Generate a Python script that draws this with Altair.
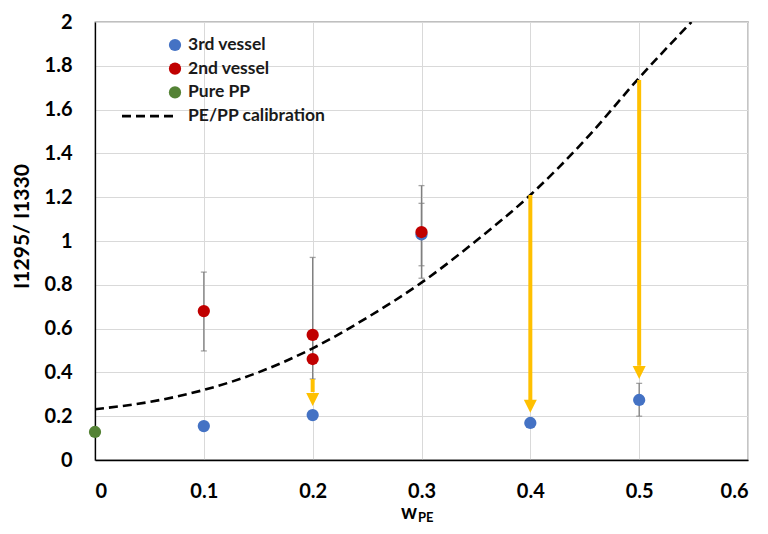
import altair as alt
import pandas as pd

# ---- data ----
v3_x = [0.1, 0.2, 0.3, 0.4, 0.5]
v3_y = [0.155, 0.205, 1.03, 0.169, 0.274]
v2_x = [0.1, 0.2, 0.2, 0.3]
v2_y = [0.68, 0.571, 0.461, 1.041]
pp_x = [0.0]
pp_y = [0.128]
cal_x = [0.0, 0.05, 0.1, 0.15, 0.2, 0.25, 0.3, 0.35, 0.4, 0.45, 0.5, 0.548]
cal_y = [0.232, 0.265, 0.32, 0.40, 0.51, 0.65, 0.81, 1.0, 1.21, 1.46, 1.745, 2.0]
err_x = [0.1, 0.2, 0.3, 0.3, 0.5]
err_lo = [0.498, 0.37, 0.83, 0.887, 0.20]
err_hi = [0.858, 0.925, 1.253, 1.172, 0.35]
arrow_x = [0.2, 0.4, 0.5]
arrow_top = [0.37, 1.21, 1.735]
arrow_base = [0.31, 0.27, 0.43]
arrow_tip = [0.247, 0.216, 0.37]
x_ticks = [0, 0.1, 0.2, 0.3, 0.4, 0.5, 0.6]
y_ticks = [0, 0.2, 0.4, 0.6, 0.8, 1.0, 1.2, 1.4, 1.6, 1.8, 2.0]
legend_labels = ["3rd vessel", "2nd vessel", "Pure PP", "PE/PP calibration"]
legend_colors = ["#4472C4", "#C00000", "#548235", "#000000"]

BLUE, RED, GREEN, GOLD, GRAY = "#4472C4", "#C00000", "#548235", "#FFC000", "#7f7f7f"
FONT = "Lato"

xs = alt.Scale(domain=[0, 0.6], nice=False)
ys = alt.Scale(domain=[0, 2], nice=False)

X = lambda f: alt.X(f, type="quantitative", scale=xs,
                    axis=alt.Axis(values=x_ticks, format="~g", title=None, ticks=False,
                                  labelPadding=21, domainColor="#000000", grid=True,
                                  gridColor="#d9d9d9",
                                  labelFont=FONT, labelFontSize=20, labelFontWeight="bold",
                                  labelColor="#000000"))
Y = lambda f: alt.Y(f, type="quantitative", scale=ys,
                    axis=alt.Axis(values=y_ticks, format="~g", title="I1295/ I1330", ticks=False,
                                  labelPadding=23, domainColor="#000000", grid=True,
                                  gridColor="#d9d9d9", titleAngle=-90, titleX=-73, titleY=204,
                                  titleAlign="center", titleBaseline="middle",
                                  titleFont=FONT, titleFontSize=21, titleFontWeight="bold",
                                  titleColor="#000000",
                                  labelFont=FONT, labelFontSize=20, labelFontWeight="bold",
                                  labelColor="#000000"))

pts3 = pd.DataFrame({"x": v3_x, "y": v3_y})
pts2 = pd.DataFrame({"x": v2_x, "y": v2_y})
ptspp = pd.DataFrame({"x": pp_x, "y": pp_y})
cal = pd.DataFrame({"x": cal_x, "y": cal_y})
err = pd.DataFrame({"x": err_x, "lo": err_lo, "hi": err_hi})
arr = pd.DataFrame({"x": arrow_x, "top": arrow_top, "base": arrow_base, "tip": arrow_tip})

err_rule = alt.Chart(err).mark_rule(color=GRAY, strokeWidth=1.3).encode(
    x=X("x"), y=Y("lo"), y2="hi")
cap_lo = alt.Chart(err).mark_tick(color=GRAY, orient="horizontal", size=6, thickness=1.3).encode(
    x=X("x"), y=Y("lo"))
cap_hi = alt.Chart(err).mark_tick(color=GRAY, orient="horizontal", size=6, thickness=1.3).encode(
    x=X("x"), y=Y("hi"))

curve = alt.Chart(cal).mark_line(color="#000000", strokeWidth=2.6, strokeDash=[9, 5],
                                 interpolate="monotone", clip=True).encode(x=X("x"), y=Y("y"))

shaft = alt.Chart(arr).mark_rule(color=GOLD, strokeWidth=4).encode(
    x=X("x"), y=Y("top"), y2="base")
head = alt.Chart(arr).mark_point(shape="M-1,-2L1,-2L0,0Z", size=169, filled=True,
                                 color=GOLD, opacity=1).encode(x=X("x"), y=Y("tip"))

def dots(df, c):
    return alt.Chart(df).mark_circle(size=150, color=c, opacity=1, clip=False).encode(
        x=X("x"), y=Y("y"))

one = pd.DataFrame({"k": [0]})
legend_layers = []
for i, (lab, col) in enumerate(zip(legend_labels, legend_colors)):
    ly = 23 + i * 23.7
    if i < 3:
        legend_layers.append(alt.Chart(one).mark_circle(size=150, color=col, opacity=1).encode(
            x=alt.value(80), y=alt.value(ly)))
    else:
        legend_layers.append(alt.Chart(one).mark_rule(color=col, strokeWidth=2.6, strokeDash=[9, 5]).encode(
            x=alt.value(27), x2=alt.value(80), y=alt.value(ly)))
    legend_layers.append(alt.Chart(one).mark_text(text=lab, font=FONT, fontSize=17.5, fontWeight="bold",
                                                  align="left", baseline="middle", color="#1a1a1a").encode(
        x=alt.value(93), y=alt.value(ly)))

xt_w = alt.Chart(one).mark_text(text="w", font=FONT, fontSize=20, fontWeight="bold",
                                align="right", baseline="alphabetic", color="#000000").encode(
    x=alt.value(322), y=alt.value(497))
xt_pe = alt.Chart(one).mark_text(text="PE", font=FONT, fontSize=13, fontWeight="bold",
                                 align="left", baseline="alphabetic", color="#000000").encode(
    x=alt.value(323), y=alt.value(500))

chart = alt.layer(
    err_rule, cap_lo, cap_hi, curve, shaft, head,
    dots(ptspp, GREEN), dots(pts3, BLUE), dots(pts2, RED),
    *legend_layers, xt_w, xt_pe
).properties(
    width=653, height=438,
    background="white",
    autosize=alt.AutoSizeParams(type="none"),
    padding={"left": 87, "top": 14, "right": 12, "bottom": 66},
).configure_view(
    stroke="#808080", strokeWidth=1.3
).configure_axis(
    domainWidth=1.3
)

chart.save("out.html", embed_options={"renderer": "svg", "actions": False})
